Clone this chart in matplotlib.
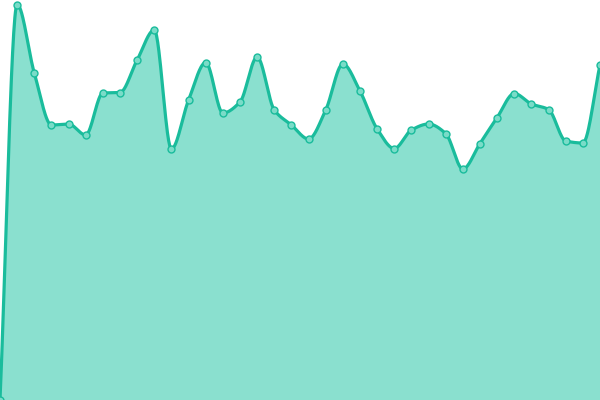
import numpy as np
import matplotlib
matplotlib.use('Agg')
import matplotlib.pyplot as plt

# values (0 at bottom, 400 at top)
values = [0, 395.5, 327, 275, 276, 265, 307, 307.5, 340, 370, 251, 300,
          337.5, 287, 298, 343, 290, 275, 261, 290, 336, 309, 271, 251.5,
          270, 276, 266.5, 231, 256.5, 282.5, 306.5, 296, 290.5, 259, 257, 335]
x = np.arange(len(values))
y = np.array(values, dtype=float)

line_color = '#1abc9c'
fill_color = '#8ae0cf'


def monotone_curve(x, y, n=30):
    # Fritsch-Carlson monotone cubic, used only to draw a smooth line
    h = np.diff(x).astype(float)
    d = np.diff(y) / h
    m = np.zeros_like(y)
    m[0], m[-1] = d[0], d[-1]
    for i in range(1, len(y) - 1):
        if d[i - 1] * d[i] <= 0:
            m[i] = 0
        else:
            w1 = 2 * h[i] + h[i - 1]
            w2 = h[i] + 2 * h[i - 1]
            m[i] = (w1 + w2) / (w1 / d[i - 1] + w2 / d[i])
    xs, ys = [], []
    for i in range(len(y) - 1):
        t = np.linspace(0, 1, n, endpoint=False)
        h00 = 2 * t**3 - 3 * t**2 + 1
        h10 = t**3 - 2 * t**2 + t
        h01 = -2 * t**3 + 3 * t**2
        h11 = t**3 - t**2
        xs.append(x[i] + t * h[i])
        ys.append(h00 * y[i] + h10 * h[i] * m[i] + h01 * y[i + 1] + h11 * h[i] * m[i + 1])
    xs.append([x[-1]])
    ys.append([y[-1]])
    return np.concatenate(xs), np.concatenate(ys)


xs, ys = monotone_curve(x, y)

fig = plt.figure(figsize=(6, 4), dpi=100)
ax = fig.add_axes([0, 0, 1, 1])
ax.fill_between(xs, ys, 0, color=fill_color, linewidth=0)
ax.plot(xs, ys, color=line_color, linewidth=2.3, solid_capstyle='round')
ax.plot(x, y, 'o', markersize=5, markerfacecolor='#7adcc8',
        markeredgecolor=line_color, markeredgewidth=1)
ax.set_xlim(0, len(values) - 1)
ax.set_ylim(0, 400)
ax.axis('off')
fig.savefig('out.png', dpi=100)
